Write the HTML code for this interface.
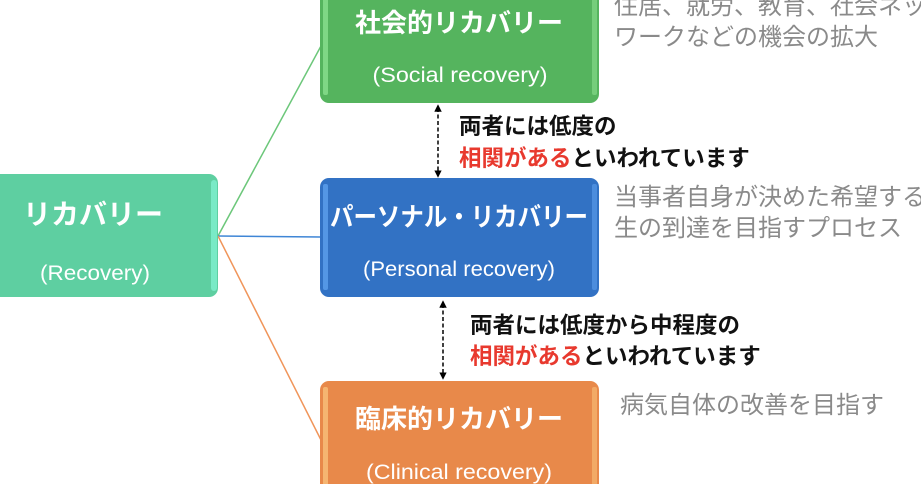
<!DOCTYPE html>
<html><head><meta charset="utf-8">
<style>
html,body{margin:0;padding:0;background:#fff;width:921px;height:484px;overflow:hidden}
svg{display:block}
.t{font-family:"Liberation Sans","Noto Sans CJK JP",sans-serif}
</style></head>
<body>
<svg width="921" height="484" viewBox="0 0 921 484" xmlns="http://www.w3.org/2000/svg" class="t">
<defs>
<marker id="ah" viewBox="0 0 10 10" refX="5" refY="5" markerWidth="5" markerHeight="5" orient="auto-start-reverse">
<path d="M0,0 L10,5 L0,10 z" fill="#000"/>
</marker>
</defs>
<line x1="218" y1="236" x2="321" y2="46" stroke="#6cc77a" stroke-width="1.5"/>
<line x1="218" y1="236" x2="321" y2="237" stroke="#3f86d6" stroke-width="1.5"/>
<line x1="218" y1="236" x2="321" y2="440" stroke="#f0955a" stroke-width="1.5"/>

<rect x="-10" y="174" width="228" height="123" rx="9" fill="#5ecfa1"/>
<rect x="211" y="180" width="6" height="111" rx="3" fill="#7ff0d0" opacity="0.8"/>
<text x="93" y="224" fill="#fff" font-size="28" font-weight="bold" text-anchor="middle">リカバリー</text>
<text x="95" y="280" fill="#fff" font-size="21" text-anchor="middle" textLength="110" lengthAdjust="spacingAndGlyphs">(Recovery)</text>

<rect x="320" y="-15" width="279" height="118" rx="9" fill="#55b45e"/>
<rect x="323" y="-10" width="5" height="105" rx="2" fill="#8ae08f" opacity="0.8"/>
<rect x="592" y="-10" width="5" height="105" rx="2" fill="#8ae08f" opacity="0.6"/>
<text x="459" y="32" fill="#fff" font-size="26" font-weight="bold" text-anchor="middle">社会的リカバリー</text>
<text x="460" y="82" fill="#fff" font-size="21" text-anchor="middle" textLength="175" lengthAdjust="spacingAndGlyphs">(Social recovery)</text>

<rect x="320" y="178" width="279" height="119" rx="9" fill="#3272c4"/>
<rect x="323" y="184" width="5" height="106" rx="2" fill="#5da0ee" opacity="0.8"/>
<rect x="592" y="184" width="5" height="106" rx="2" fill="#5da0ee" opacity="0.6"/>
<text x="459" y="226" fill="#fff" font-size="26" font-weight="bold" text-anchor="middle" textLength="258" lengthAdjust="spacingAndGlyphs">パーソナル・リカバリー</text>
<text x="459" y="276" fill="#fff" font-size="21" text-anchor="middle" textLength="192" lengthAdjust="spacingAndGlyphs">(Personal recovery)</text>

<rect x="320" y="381" width="279" height="120" rx="9" fill="#e8894a"/>
<rect x="323" y="387" width="5" height="110" rx="2" fill="#f8c07a" opacity="0.8"/>
<rect x="592" y="387" width="5" height="110" rx="2" fill="#f8c07a" opacity="0.6"/>
<text x="459" y="428" fill="#fff" font-size="26" font-weight="bold" text-anchor="middle">臨床的リカバリー</text>
<text x="459" y="479" fill="#fff" font-size="21" text-anchor="middle" textLength="186" lengthAdjust="spacingAndGlyphs">(Clinical recovery)</text>

<line x1="438" y1="108" x2="438" y2="174" stroke="#000" stroke-width="1.5" stroke-dasharray="4,2.5" marker-start="url(#ah)" marker-end="url(#ah)"/>
<line x1="443" y1="304" x2="443" y2="376" stroke="#000" stroke-width="1.5" stroke-dasharray="4,2.5" marker-start="url(#ah)" marker-end="url(#ah)"/>

<g font-size="22.5" font-weight="bold">
<text x="459" y="134" fill="#111">両者には低度の</text>
<text x="459" y="166" fill="#111"><tspan fill="#e8392e">相関がある</tspan>といわれています</text>
<text x="470" y="333" fill="#111">両者には低度から中程度の</text>
<text x="470" y="364" fill="#111"><tspan fill="#e8392e">相関がある</tspan>といわれています</text>
</g>

<g font-size="24" fill="#8a8a8a">
<text x="614" y="14">住居、就労、教育、社会ネット</text>
<text x="614" y="45">ワークなどの機会の拡大</text>
<text x="614" y="205">当事者自身が決めた希望する人</text>
<text x="614" y="236">生の到達を目指すプロセス</text>
<text x="620" y="413">病気自体の改善を目指す</text>
</g>
</svg>
</body></html>
